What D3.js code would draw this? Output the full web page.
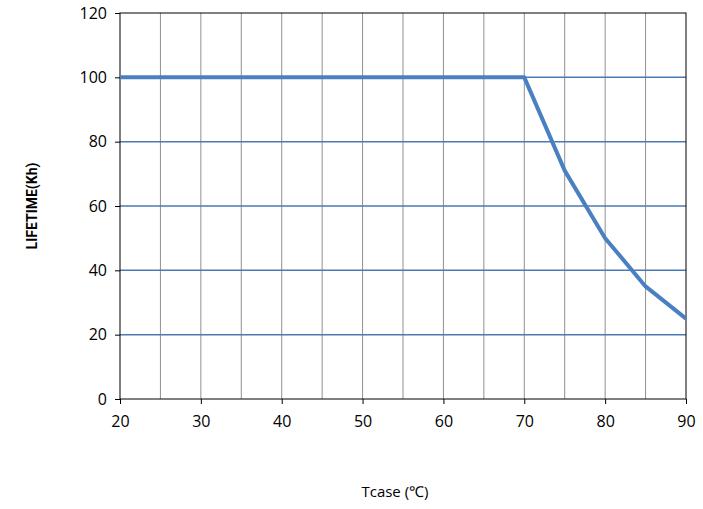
<!DOCTYPE html>
<html><head><meta charset="utf-8">
<script src="https://cdn.jsdelivr.net/npm/d3@7"></script>
<style>body{margin:0;background:#fff}</style>
</head><body>
<script>
// data
var temps = [20, 70, 75, 80, 85, 90];
var lifetime = [100, 100, 71, 50, 35, 25];
var xTicks = [20, 30, 40, 50, 60, 70, 80, 90];
var yTicks = [0, 20, 40, 60, 80, 100, 120];

var w = 703, h = 509;
var pLeft = 120, pRight = 686, pTop = 13, pBottom = 399;

var svg = d3.select("body").append("svg").attr("width", w).attr("height", h);

var x = d3.scaleLinear().domain([20, 90]).range([pLeft, pRight]);
var y = d3.scaleLinear().domain([0, 120]).range([pBottom, pTop]);

// vertical grid every 5
svg.selectAll(".vg").data(d3.range(25, 90, 5)).enter().append("line")
   .attr("x1", d => x(d)).attr("x2", d => x(d))
   .attr("y1", pTop).attr("y2", pBottom)
   .attr("stroke", "#909090").attr("stroke-width", 1);

// horizontal grid
svg.selectAll(".hg").data(yTicks.slice(1, -1)).enter().append("line")
   .attr("x1", pLeft).attr("x2", pRight)
   .attr("y1", d => y(d)).attr("y2", d => y(d))
   .attr("stroke", "#4a7ab5").attr("stroke-width", 1.5);

svg.append("rect").attr("x", pLeft).attr("y", pTop)
   .attr("width", pRight - pLeft).attr("height", pBottom - pTop)
   .attr("fill", "none").attr("stroke", "#000").attr("stroke-width", 1);

var xAxis = svg.append("g").attr("transform", "translate(0," + pBottom + ")")
   .call(d3.axisBottom(x).tickValues(xTicks).tickSize(5).tickPadding(12));
var yAxis = svg.append("g").attr("transform", "translate(" + pLeft + ",0)")
   .call(d3.axisLeft(y).tickValues(yTicks).tickSize(5).tickPadding(8));
[xAxis, yAxis].forEach(function (a) {
  a.select(".domain").remove();
  a.selectAll("text").attr("font-family", "Open Sans, sans-serif")
   .attr("font-size", 16).attr("fill", "#000");
  a.selectAll("line").attr("stroke", "#000");
});

var line = d3.line().x((d, i) => x(temps[i])).y(d => y(d));
svg.append("path").datum(lifetime).attr("d", line)
   .attr("fill", "none").attr("stroke", "#4a7fc1").attr("stroke-width", 4)
   .attr("stroke-linejoin", "round");

svg.append("text").attr("transform", "translate(37," + ((pTop + pBottom) / 2) + ") rotate(-90)")
   .attr("text-anchor", "middle").attr("font-family", "Roboto, Arial, sans-serif")
   .attr("font-weight", "bold").attr("font-size", 14).text("LIFETIME(Kh)");

svg.append("text").attr("x", 395).attr("y", 497).attr("text-anchor", "middle")
   .attr("font-family", "Open Sans, sans-serif").attr("font-size", 15).text("Tcase (℃)");
</script>
</body></html>
